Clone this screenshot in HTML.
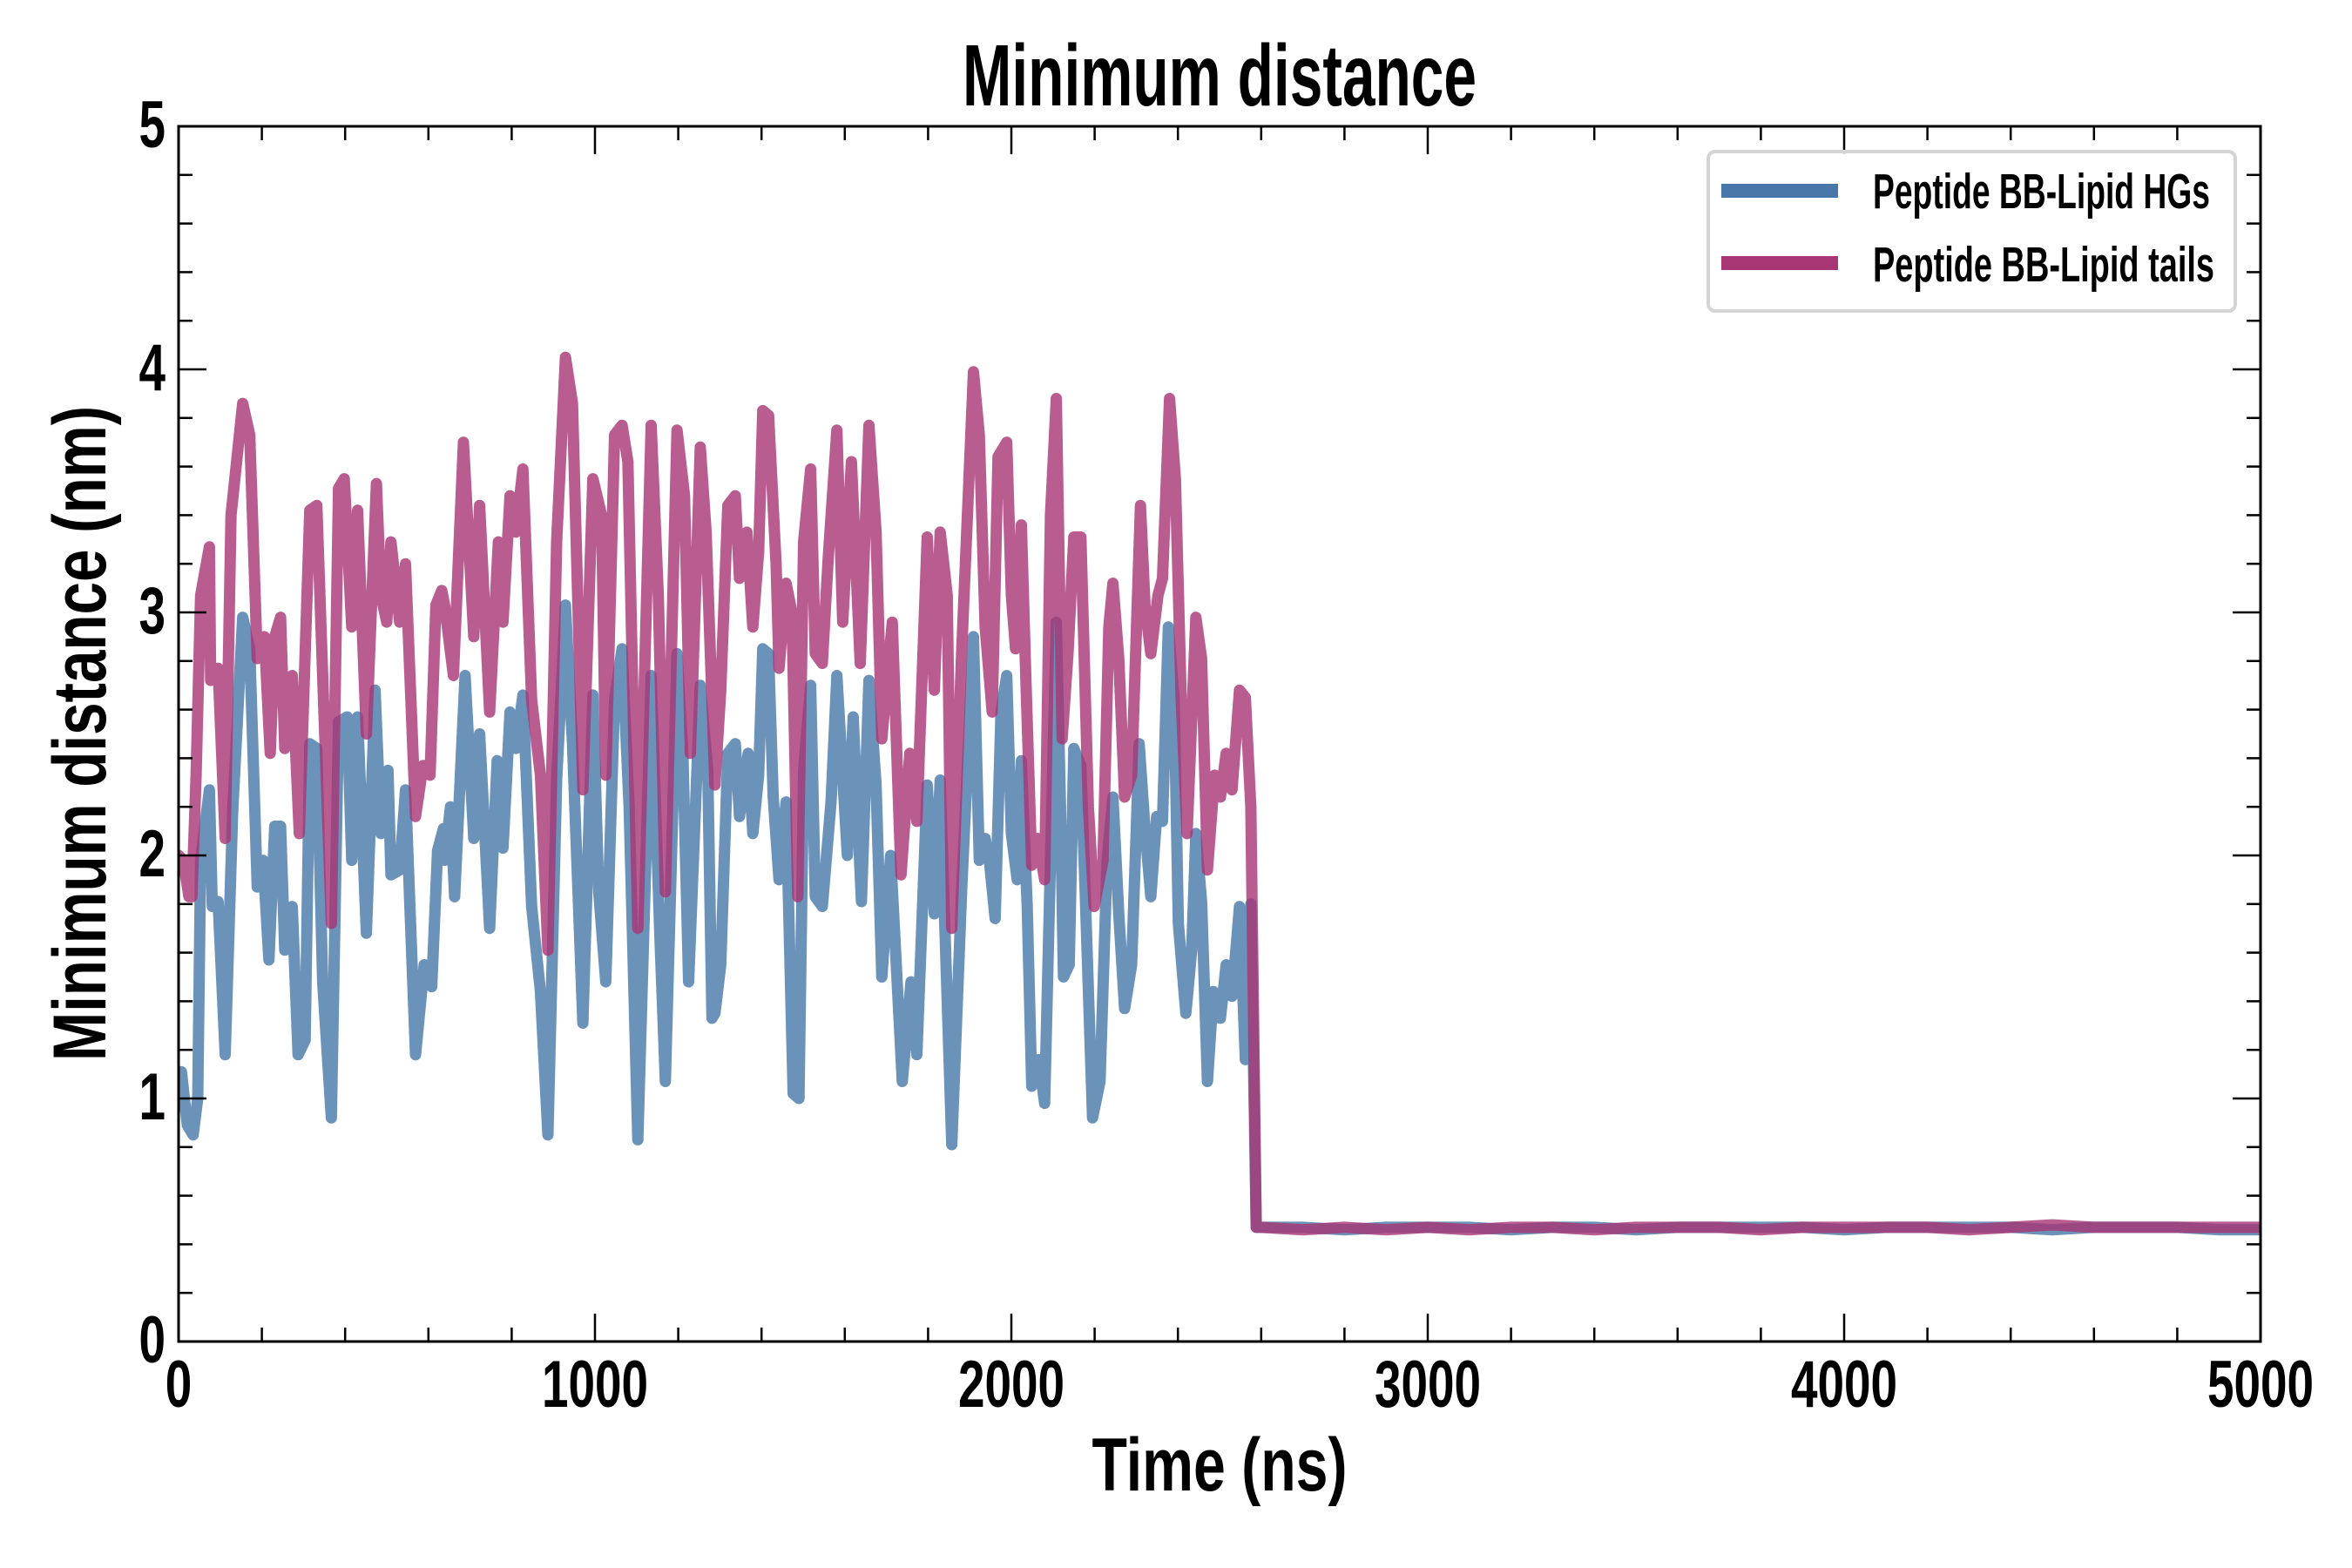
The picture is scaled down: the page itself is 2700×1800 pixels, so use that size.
<!DOCTYPE html>
<html><head><meta charset="utf-8"><style>
html,body{margin:0;padding:0;background:#fff;}
svg{display:block;}
text{font-family:"Liberation Sans Narrow","Liberation Sans",sans-serif;font-weight:bold;fill:#000;}
</style></head><body>
<svg id="chart" xmlns="http://www.w3.org/2000/svg" width="2700" height="1800" viewBox="0 0 2700 1800">
<rect x="0" y="0" width="2700" height="1800" fill="#fff"/>
<defs><clipPath id="plotclip"><rect x="205" y="145" width="2390" height="1395"/></clipPath></defs>
<text x="1400" y="121" font-size="100" text-anchor="middle" textLength="590" lengthAdjust="spacingAndGlyphs">Minimum distance</text>
<text x="1400" y="1711" font-size="86" text-anchor="middle" textLength="293" lengthAdjust="spacingAndGlyphs">Time (ns)</text>
<text x="0" y="0" font-size="86" text-anchor="middle" textLength="752" lengthAdjust="spacingAndGlyphs" transform="translate(121,842) rotate(-90)">Minimum distance (nm)</text>
<g id="series" clip-path="url(#plotclip)"></g>
<g id="axes"></g>
<g id="legend">
<rect x="1961" y="174" width="605" height="183" rx="8" fill="#fff" fill-opacity="0.8" stroke="#d4d4d4" stroke-width="4"/>
<line x1="1976" y1="219" x2="2110" y2="219" stroke="#4677a8" stroke-width="16"/>
<text x="2150" y="239" font-size="57" textLength="387" lengthAdjust="spacingAndGlyphs">Peptide BB-Lipid HGs</text>
<line x1="1976" y1="302" x2="2110" y2="302" stroke="#a83574" stroke-width="16"/>
<text x="2150" y="323" font-size="57" textLength="392" lengthAdjust="spacingAndGlyphs">Peptide BB-Lipid tails</text>
</g>
</svg>
<script>
const xTicks = [0, 1000, 2000, 3000, 4000, 5000];
const xTickLabels = ["0", "1000", "2000", "3000", "4000", "5000"];
const yTicks = [0, 1, 2, 3, 4, 5];
const yTickLabels = ["0", "1", "2", "3", "4", "5"];

const tailsTime = [0,11,25,32,42,53,74,77,95,112,126,154,171,189,206,220,231,245,255,273,290,315,332,346,367,384,398,416,430,451,475,486,500,510,531,545,569,587,604,618,632,
639,660,684,709,723,747,768,779,796,810,827,848,869,887,908,929,946,971,995,1016,1026,1047,1065,1079,1103,1135,1152,1169,1197,1215,1229,1253,1267,
1288,1302,1319,1337,1347,1365,1379,1393,1403,1417,1435,1442,1459,1473,1487,1501,1518,1529,1546,1560,1581,1595,1616,1637,1658,1675,1689,1714,1735,1756,1773,1798,1815,1829,1846,1857,1881,1909,1923,
1937,1954,1968,1989,2000,2010,2024,2035,2049,2063,2080,2094,2108,2122,2136,2150,2167,2185,2199,2220,2234,2244,2258,2272,2289,2310,2321,2335,2352,2363,2380,2394,2408,2422,2443,2457,2471,2488,2502,2516,2530,2548,2562,2575,2588,
2600,2700,2800,2900,3000,3100,3200,3300,3400,3500,3600,3700,3800,3900,4000,4100,4200,4300,4400,4500,4600,4700,4800,4900,5000];
const tailsValue = [2.0,1.98,1.83,1.83,2.33,3.07,3.27,2.72,2.77,2.07,3.4,3.86,3.73,2.81,2.9,2.42,2.9,2.98,2.44,2.74,2.09,3.42,3.44,2.74,1.72,3.51,3.55,2.94,3.42,2.5,3.53,3.07,2.96,3.29,2.96,3.2,2.16,2.37,2.33,3.03,3.09,
3.03,2.74,3.7,2.9,3.44,2.59,3.29,2.96,3.48,3.33,3.59,2.64,2.33,1.61,3.29,4.05,3.86,2.27,3.55,3.4,2.33,3.73,3.77,3.62,1.7,3.77,3.07,1.85,3.75,3.48,2.42,3.68,3.33,
2.29,2.68,3.44,3.48,3.14,3.33,2.94,3.25,3.83,3.81,3.2,2.77,3.12,3.0,1.83,3.29,3.59,2.83,2.79,3.22,3.75,2.96,3.62,2.79,3.77,3.33,2.48,2.96,1.92,2.42,2.14,3.31,2.68,3.33,3.07,1.7,2.85,3.99,3.73,
2.94,2.59,3.64,3.7,3.07,2.85,3.36,2.72,1.96,2.07,1.9,3.4,3.88,2.48,2.83,3.31,3.31,2.2,1.79,1.98,2.94,3.12,2.81,2.24,2.33,3.44,3.03,2.83,3.07,3.14,3.88,3.55,2.64,2.09,2.98,2.81,1.94,2.33,2.24,2.42,2.27,2.68,2.65,2.2,0.47,
0.47,0.46,0.47,0.46,0.47,0.46,0.47,0.47,0.46,0.47,0.47,0.47,0.46,0.47,0.47,0.47,0.47,0.46,0.47,0.48,0.47,0.47,0.47,0.47,0.47];

const hgsTime = [0,7,21,35,46,53,74,81,95,112,130,154,171,189,203,217,231,245,255,273,287,304,315,332,346,367,384,405,416,430,451,472,486,503,510,531,545,569,590,608,622,636,
639,653,663,688,709,723,747,765,779,796,810,827,848,869,887,908,929,946,971,995,1009,1026,1047,1065,1082,1103,1135,1156,1169,1197,1211,1225,1253,1271,1281,
1288,1302,1319,1337,1347,1368,1379,1393,1403,1417,1428,1442,1459,1476,1490,1501,1518,1529,1546,1567,1581,1606,1620,1640,1658,1675,1689,1710,1738,1759,1773,1798,1815,1829,1857,1881,1909,1923,
1937,1947,1961,1975,1989,2000,2014,2024,2038,2049,2066,2080,2094,2108,2118,2125,2139,2150,2167,2178,2195,2213,2230,2244,2258,2272,2289,2307,2321,2335,2349,2363,2377,2391,2401,2419,2433,2443,2457,2471,2485,2502,2516,2530,2548,2562,2575,2588,
2600,2700,2800,2900,3000,3100,3200,3300,3400,3500,3600,3700,3800,3900,4000,4100,4200,4300,4400,4500,4600,4700,4800,4900,5000];
const hgsValue = [1.0,1.11,0.89,0.85,1.0,1.98,2.27,1.79,1.81,1.18,2.18,2.98,2.85,1.87,1.98,1.57,2.12,2.12,1.61,1.79,1.18,1.24,2.46,2.44,1.48,0.92,2.55,2.57,1.98,2.57,1.68,2.68,2.09,2.35,1.92,1.94,2.27,1.18,1.55,1.46,2.02,2.11,
1.98,2.2,1.83,2.74,2.07,2.5,1.7,2.39,2.03,2.59,2.44,2.66,1.79,1.44,0.85,2.31,3.03,2.46,1.31,2.66,1.85,1.48,2.64,2.85,2.2,0.83,2.74,1.66,1.07,2.83,2.42,1.48,2.7,2.35,1.33,
1.35,1.55,2.42,2.46,2.16,2.42,2.09,2.33,2.85,2.83,2.24,1.9,2.22,1.02,1.0,2.35,2.7,1.83,1.79,2.22,2.74,2.0,2.57,1.81,2.72,2.29,1.5,2.0,1.07,1.48,1.18,2.29,1.76,2.31,0.81,1.87,2.9,1.98,
2.07,1.98,1.74,2.59,2.74,2.09,1.9,2.39,1.79,1.05,1.16,0.98,1.98,2.96,2.2,1.5,1.55,2.44,2.37,1.81,0.92,1.07,1.98,2.24,1.76,1.37,1.55,2.46,2.11,1.83,2.16,2.14,2.94,2.64,1.72,1.35,1.61,2.09,1.81,1.07,1.44,1.33,1.55,1.42,1.79,1.16,1.8,0.47,
0.47,0.47,0.46,0.47,0.47,0.47,0.46,0.47,0.47,0.46,0.47,0.47,0.47,0.47,0.46,0.47,0.47,0.47,0.47,0.46,0.47,0.47,0.47,0.46,0.46];

const PL = 205, PR = 2595, PT = 145, PB = 1540;
const X_MAX = 5000, Y_MAX = 5;
function xScale(t) { return PL + (t / X_MAX) * (PR - PL); }
function yScale(v) { return PB - (v / Y_MAX) * (PB - PT); }
const NS = "http://www.w3.org/2000/svg";

function drawSeries(times, values, color, name) {
  let d = "";
  for (let i = 0; i < times.length; i++) {
    d += (i ? "L" : "M") + xScale(times[i]).toFixed(1) + " " + yScale(values[i]).toFixed(1);
  }
  const p = document.createElementNS(NS, "path");
  p.setAttribute("d", d);
  p.setAttribute("fill", "none");
  p.setAttribute("stroke", color);
  p.setAttribute("stroke-width", "13");
  p.setAttribute("stroke-opacity", "0.8");
  p.setAttribute("stroke-linejoin", "round");
  p.setAttribute("stroke-linecap", "round");
  
  
  document.getElementById("series").appendChild(p);
}
drawSeries(hgsTime, hgsValue, "#4677a8", "line-lipid-hgs");
drawSeries(tailsTime, tailsValue, "#a83574", "line-lipid-tails");

const axes = document.getElementById("axes");
function addLine(x1, y1, x2, y2, w, name) {
  const l = document.createElementNS(NS, "line");
  l.setAttribute("x1", x1); l.setAttribute("y1", y1);
  l.setAttribute("x2", x2); l.setAttribute("y2", y2);
  l.setAttribute("stroke", "#000");
  l.setAttribute("stroke-width", w);
  
  
  axes.appendChild(l);
}
function addText(x, y, s, anchor, name) {
  const t = document.createElementNS(NS, "text");
  t.setAttribute("x", x); t.setAttribute("y", y);
  t.setAttribute("font-size", "76");
  t.setAttribute("text-anchor", anchor);
  t.setAttribute("textLength", String(s.length * 30.5));
  t.setAttribute("lengthAdjust", "spacingAndGlyphs");
  t.textContent = s;
  
  
  axes.appendChild(t);
}
for (let t = 200; t < X_MAX; t += 200) {
  if (t % 1000 === 0) continue;
  const x = xScale(t);
  addLine(x, PB, x, PB - 16, 2.5, "x-minor-tick");
  addLine(x, PT, x, PT + 16, 2.5, "x-minor-tick-top");
}
for (let k = 1; k < 25; k++) {
  if (k % 5 === 0) continue;
  const y = yScale(k * 0.2);
  addLine(PL, y, PL + 16, y, 2.5, "y-minor-tick");
  addLine(PR, y, PR - 16, y, 2.5, "y-minor-tick-right");
}
xTicks.forEach((t, i) => {
  const x = xScale(t);
  addLine(x, PB, x, PB - 32, 2.5, "x-major-tick");
  addLine(x, PT, x, PT + 32, 2.5, "x-major-tick-top");
  addText(x, 1615, xTickLabels[i], "middle", "x-tick-label");
});
yTicks.forEach((v, i) => {
  const y = yScale(v);
  addLine(PL, y, PL + 32, y, 2.5, "y-major-tick");
  addLine(PR, y, PR - 32, y, 2.5, "y-major-tick-right");
  addText(190, y + 24, yTickLabels[i], "end", "y-tick-label");
});
const frame = document.createElementNS(NS, "rect");
frame.setAttribute("x", PL); frame.setAttribute("y", PT);
frame.setAttribute("width", PR - PL); frame.setAttribute("height", PB - PT);
frame.setAttribute("fill", "none"); frame.setAttribute("stroke", "#000");
frame.setAttribute("stroke-width", "3");


axes.appendChild(frame);
</script>
</body></html>
